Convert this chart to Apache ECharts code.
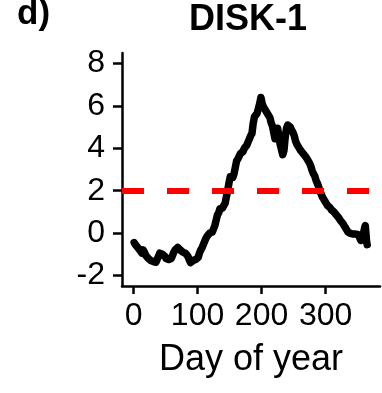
<!DOCTYPE html>
<html>
<head>
<meta charset="utf-8">
<script src="https://cdn.jsdelivr.net/npm/echarts@6/dist/echarts.min.js"></script>
<style>html,body{margin:0;padding:0;background:#fff}#c{width:382px;height:393px}</style>
</head>
<body>
<div id="c"></div>
<script>
const panelLabel = 'd)';
const titleText = 'DISK-1';
const xName = 'Day of year';
const xTicks = [0, 100, 200, 300];
const yTicks = [-2, 0, 2, 4, 6, 8];
const threshold = 2;
const days = [1,3,5,7,9,11,13,15,17,19,21,23,25,27,29,31,33,35,37,39,41,43,45,47,49,51,53,55,57,59,61,63,65,67,69,71,73,75,77,79,81,83,85,87,89,91,93,95,97,99,101,103,105,107,109,111,113,115,117,119,121,123,125,127,129,131,133,135,137,139,141,143,145,147,149,151,153,155,157,159,161,163,165,167,169,171,173,175,177,179,181,183,185,187,189,191,193,195,197,199,201,203,205,207,209,211,213,215,217,219,221,223,225,227,229,231,233,235,237,239,241,243,245,247,249,251,253,255,257,259,261,263,265,267,269,271,273,275,277,279,281,283,285,287,289,291,293,295,297,299,301,303,305,307,309,311,313,315,317,319,321,323,325,327,329,331,333,335,337,339,341,343,345,347,349,351,353,355,357,359,361,362,363,364,365];
const values = [-0.45,-0.55,-0.5,-0.7,-0.65,-0.85,-0.95,-0.8,-0.9,-1.05,-1.0,-1.2,-1.15,-1.3,-1.25,-1.35,-1.3,-1.38,-1.3,-1.1,-0.95,-0.9,-1.0,-0.95,-1.1,-1.2,-1.15,-1.25,-1.3,-1.2,-1.05,-0.9,-0.8,-0.75,-0.68,-0.72,-0.8,-0.85,-0.9,-0.95,-0.95,-1.0,-1.1,-1.25,-1.4,-1.42,-1.3,-1.3,-1.25,-1.22,-1.15,-0.95,-0.8,-0.7,-0.55,-0.4,-0.25,-0.15,-0.1,0.0,-0.02,0.05,0.2,0.35,0.6,0.85,0.95,1.15,1.22,1.18,1.3,1.4,1.7,2.0,2.35,2.65,2.7,2.62,2.8,3.1,3.4,3.5,3.55,3.75,3.8,3.85,4.0,4.05,4.15,4.3,4.45,4.6,4.7,5.2,5.5,5.55,5.65,5.7,6.1,6.4,6.1,5.95,5.85,5.75,5.7,5.55,5.45,5.2,5.05,4.75,4.45,4.7,4.95,4.6,4.2,3.95,3.7,3.9,4.55,4.95,5.1,5.05,5.0,4.85,4.75,4.6,4.35,4.2,4.1,4.0,3.9,3.85,3.75,3.7,3.6,3.5,3.45,3.3,3.15,2.95,2.8,2.7,2.5,2.35,2.2,1.98,1.85,1.7,1.6,1.5,1.4,1.3,1.22,1.2,1.1,1.05,1.0,0.95,0.85,0.78,0.7,0.6,0.55,0.45,0.35,0.25,0.15,0.05,0.0,-0.02,-0.05,-0.05,-0.02,-0.05,-0.1,-0.08,-0.2,-0.35,-0.25,-0.05,0.25,0.35,0.0,-0.4,-0.55];

const FONT = 'Liberation Sans, Arial, Helvetica, sans-serif';
const chart = echarts.init(document.getElementById('c'), null, {renderer: 'canvas'});
const axisLine = {show: true, onZero: false, lineStyle: {color: '#000', width: 2.5}};
chart.setOption({
  animation: false,
  backgroundColor: '#fff',
  title: [
    {text: panelLabel, left: 17, top: -3, padding: 0,
     textStyle: {fontFamily: FONT, fontWeight: 'bold', fontSize: 35, color: '#000'}},
    {text: titleText, left: 248, top: 2, padding: 0, textAlign: 'center',
     textStyle: {fontFamily: FONT, fontWeight: 'bold', fontSize: 36, color: '#000'}}
  ],
  grid: {left: 122, right: 2, top: 53, bottom: 107, containLabel: false},
  xAxis: {
    type: 'value', min: -18, max: 385,
    name: xName, nameLocation: 'middle', nameGap: 56,
    nameTextStyle: {fontFamily: FONT, fontSize: 36, color: '#000'},
    axisLine: axisLine,
    axisTick: {show: true, inside: false, length: 8, customValues: xTicks, lineStyle: {color: '#000', width: 2.5}},
    axisLabel: {show: true, margin: 14, customValues: xTicks, fontFamily: FONT, fontSize: 32, color: '#000'},
    splitLine: {show: false}
  },
  yAxis: {
    type: 'value', min: -2.5, max: 8.5,
    axisLine: axisLine,
    axisTick: {show: true, inside: false, length: 9, customValues: yTicks, lineStyle: {color: '#000', width: 2.5}},
    axisLabel: {show: true, margin: 17, customValues: yTicks, fontFamily: FONT, fontSize: 32, color: '#000'},
    splitLine: {show: false}
  },
  series: [{
    type: 'line',
    data: days.map((d, i) => [d, values[i]]),
    symbol: 'none',
    lineStyle: {color: '#000', width: 7.5, join: 'round', cap: 'round'},
    z: 2,
    markLine: {
      silent: true, symbol: 'none', label: {show: false},
      lineStyle: {color: '#ff0000', type: [22, 23], width: 6},
      data: [{yAxis: threshold}],
      z: 5
    }
  }]
});
</script>
</body>
</html>
